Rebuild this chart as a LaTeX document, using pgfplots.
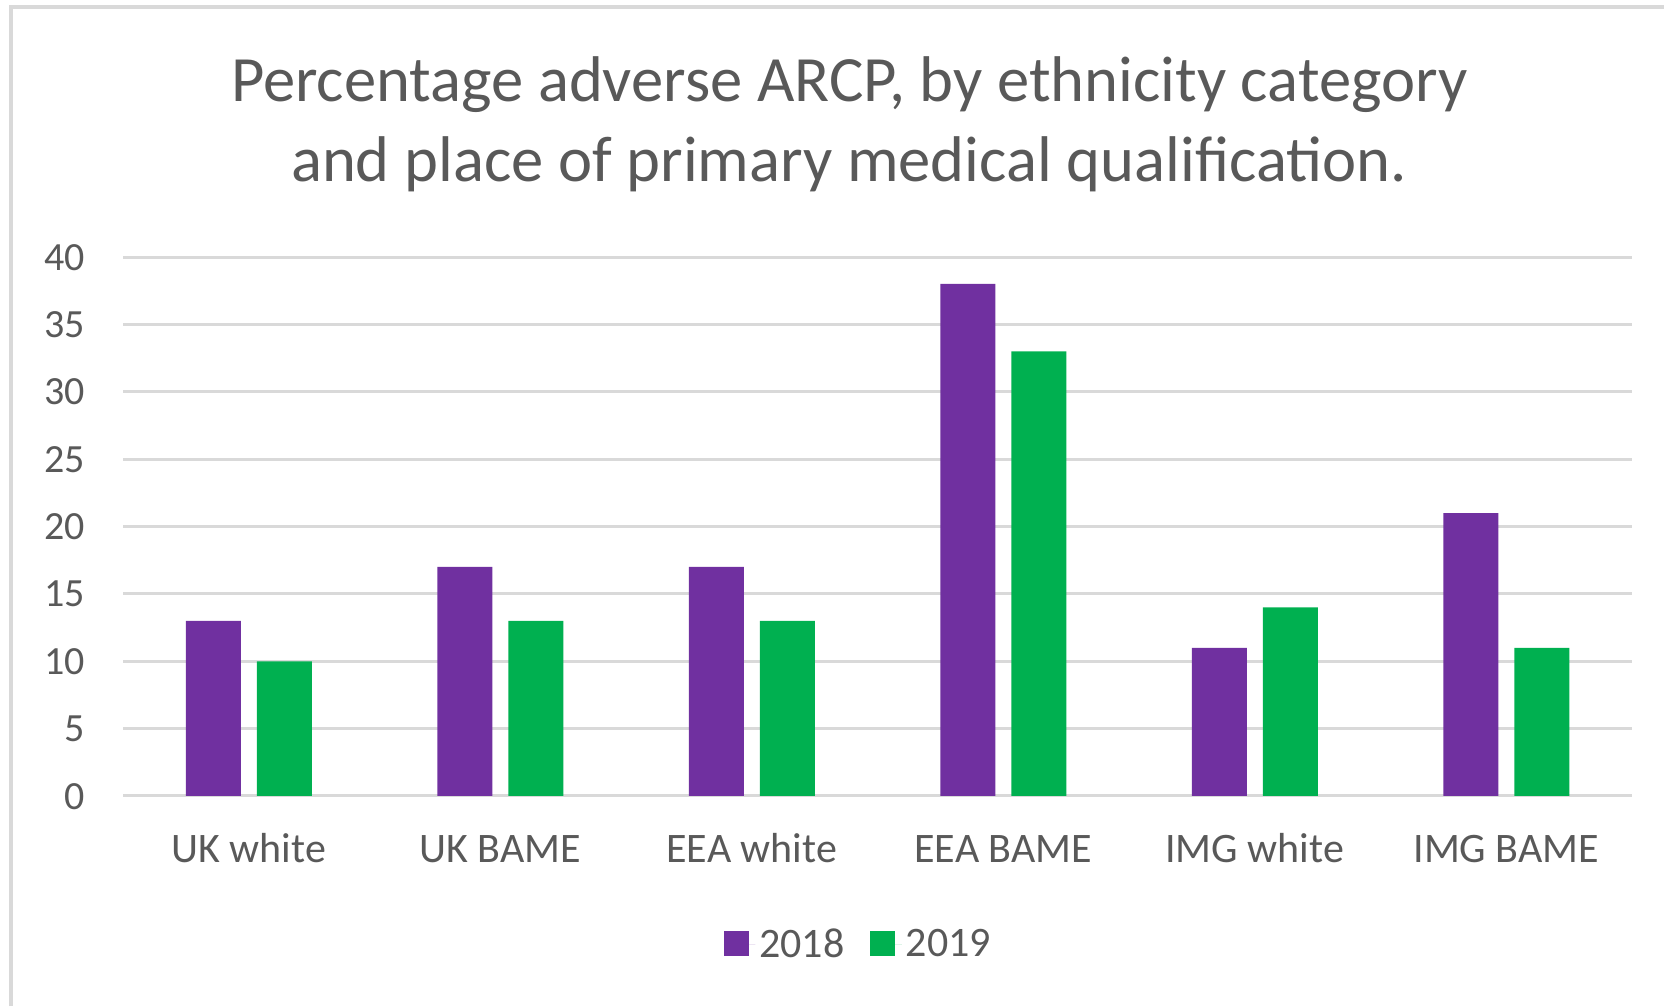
\documentclass[border=0pt]{standalone}
\usepackage{fontspec}
\setmainfont{Carlito}
\usepackage{pgfplots}
\pgfplotsset{compat=1.18}
\definecolor{cpurple}{HTML}{7030A0}
\definecolor{cgreen}{HTML}{00B050}
\definecolor{cgrid}{HTML}{D9D9D9}
\definecolor{ctext}{HTML}{595959}
\definecolor{cborder}{HTML}{D9D9D9}
\begin{document}
\begin{tikzpicture}
\useasboundingbox (0,0) rectangle (832pt,503pt);
\draw[cborder, line width=2pt] (5.5pt,0) -- (5.5pt,499.5pt) -- (832pt,499.5pt);
\node[anchor=base, text=ctext, inner sep=0pt, font=\fontsize{32.3}{40}\selectfont] at (424.5pt,452.15pt) {Percentage adverse ARCP, by ethnicity category};
\node[anchor=base, text=ctext, inner sep=0pt, font=\fontsize{32.3}{40}\selectfont] at (424.5pt,412.15pt) {and place of primary medical qualification.};
\begin{axis}[
  at={(61.5pt,105pt)}, anchor=south west,
  scale only axis, width=754.5pt, height=269.5pt,
  ybar=8pt, bar width=27.5pt,
  xmin=-0.5, xmax=5.5, ymin=0, ymax=40,
  xtick={0,...,5},
  xticklabels={UK white,UK BAME,EEA white,EEA BAME,IMG white,IMG BAME},
  ytick={0,5,...,40},
  axis line style={draw=none},
  major tick length=0pt,
  ymajorgrids, grid style={cgrid, line width=1.5pt},
  tick label style={text=ctext, font=\fontsize{20}{24}\selectfont, inner sep=0pt},
  xticklabel style={anchor=base, yshift=-33.5pt, font=\fontsize{21}{24}\selectfont},
  yticklabel style={anchor=base east, xshift=-19pt, yshift=-6.5pt},
  /pgf/number format/assume math mode=true,
  legend columns=2,
  legend style={at={(0.488,-0.2755)}, anchor=center, draw=none, fill=none,
    font=\fontsize{21}{24}\selectfont, text=ctext,
    /tikz/every even column/.append style={column sep=11pt}},
  legend image code/.code={\fill[#1] (0pt,-6pt) rectangle (12.5pt,6.5pt); \path (0pt,0pt) -- (15.7pt,0pt);},
]
\addplot[fill=cpurple, draw=none] coordinates {(0,13) (1,17) (2,17) (3,38) (4,11) (5,21)};
\addplot[fill=cgreen, draw=none] coordinates {(0,10) (1,13) (2,13) (3,33) (4,14) (5,11)};
\legend{2018,2019}
\end{axis}
\end{tikzpicture}
\end{document}
